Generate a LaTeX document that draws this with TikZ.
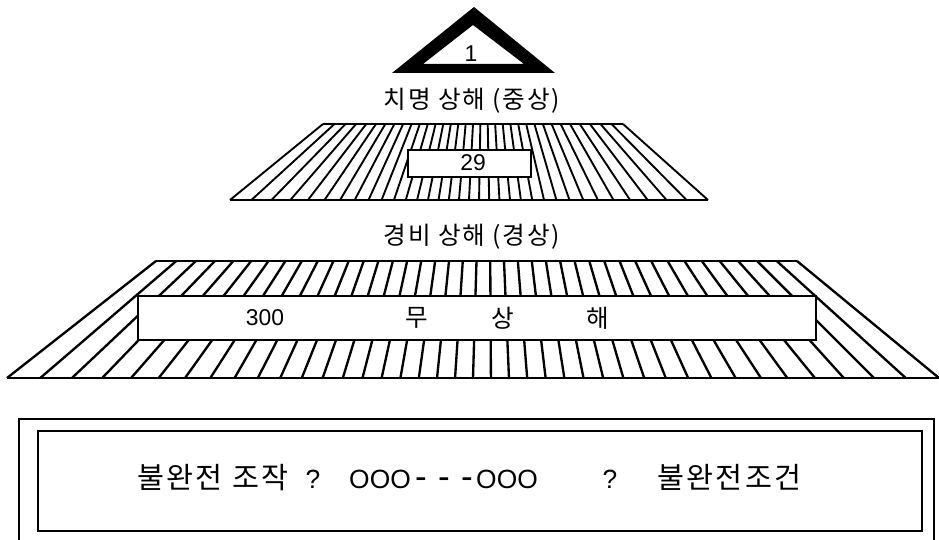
\documentclass[tikz,border=0pt]{standalone}
\usepackage{fontspec}
\setmainfont{Liberation Sans}
\newfontfamily\kr{Noto Sans CJK KR}
\newfontfamily\krsp[LetterSpace=8]{Noto Sans CJK KR}
\begin{document}
\begin{tikzpicture}[x=0.03cm,y=-0.03cm,
  hatchbig/.style={line width=2.0pt},
  hatchmid/.style={line width=1.6pt},
  box/.style={draw,fill=white,line width=1.5pt},
  lbl/.style={inner sep=0pt,font=\fontsize{19.5}{22}\selectfont},
  head/.style={inner sep=0pt,font=\krsp\fontsize{21}{24}\selectfont},
  big/.style={inner sep=0pt,font=\fontsize{22.5}{28}\selectfont},
  dsh/.style={inner sep=0pt,font=\fontsize{30}{34}\selectfont},
  bigkr/.style={inner sep=0pt,font=\krsp\fontsize{25}{30}\selectfont}]
\useasboundingbox (0,0) rectangle (939,540);
% triangle
\fill[even odd rule] (474,7) -- (392,73) -- (555,73) -- cycle
  (473,25) -- (423,64) -- (524,64) -- cycle;
\node[lbl] (one) at (471,54) {1};
\node[head] (t1) at (472,101) {치명\hspace{6pt}상해\hspace{6pt}(중상)};
% middle trapezoid
\foreach \i in {-17,...,17}{
  \pgfmathsetmacro\t{\i/17}
  \pgfmathsetmacro\xt{473+150*(0.833*\t+0.167*\t*\t*\t)}
  \pgfmathsetmacro\xb{469+239*(0.714*\t+0.286*\t*\t*\t)}
  \draw[hatchmid] (\xt,124) -- (\xb,200);
}
\draw[hatchmid] (323,124) -- (623,124);
\draw[hatchmid] (230,200) -- (708,200);
\node[box,minimum width=123*0.03cm,minimum height=27*0.03cm,inner sep=0pt] (b29) at (469.5,163.5) {};
\node[lbl] (n29) at (473,163) {29};
\node[head] (t2) at (472,237) {경비\hspace{6pt}상해\hspace{6pt}(경상)};
% large trapezoid
\foreach \i in {-20,...,20}{
  \pgfmathsetmacro\t{\i/20}
  \pgfmathsetmacro\xt{476.5+320.5*(0.857*\t+0.143*\t*\t*\t)}
  \pgfmathsetmacro\xb{473+466*(0.77*\t+0.23*\t*\t*\t)}
  \draw[hatchbig] (\xt,261) -- (\xb,378);
}
\draw[hatchbig] (156,261) -- (797,261);
\draw[hatchbig] (7,378) -- (939,378);
\node[box,minimum width=678*0.03cm,minimum height=44*0.03cm,inner sep=0pt] (b300) at (477,318) {};
\node[lbl] (n300) at (265,318) {300};
\node[head] (m1) at (417,318) {무};
\node[head] (m2) at (503,318) {상};
\node[head] (m3) at (598,318) {해};
% bottom boxes
\draw[line width=1.4pt] (19,545) -- (19,419) -- (934,419) -- (934,545);
\node[draw,line width=1.7pt,minimum width=884*0.03cm,minimum height=100*0.03cm,inner sep=0pt] (inner) at (480,481) {};
\node[bigkr,anchor=base west] (w1) at (137,488) {불완전\hspace{8pt}조작};
\node[big,anchor=base] (q1) at (313,488) {?};
\node[big,anchor=base] (o1) at (380,488) {OOO};
\node[dsh,anchor=base] (d1) at (421,488) {-};
\node[dsh,anchor=base] (d2) at (444,488) {-};
\node[dsh,anchor=base] (d3) at (467,488) {-};
\node[big,anchor=base] (o2) at (507,488) {OOO};
\node[big,anchor=base] (q2) at (610,488) {?};
\node[bigkr,anchor=base west] (w2) at (657,488) {불완전조건};
\end{tikzpicture}
\end{document}
